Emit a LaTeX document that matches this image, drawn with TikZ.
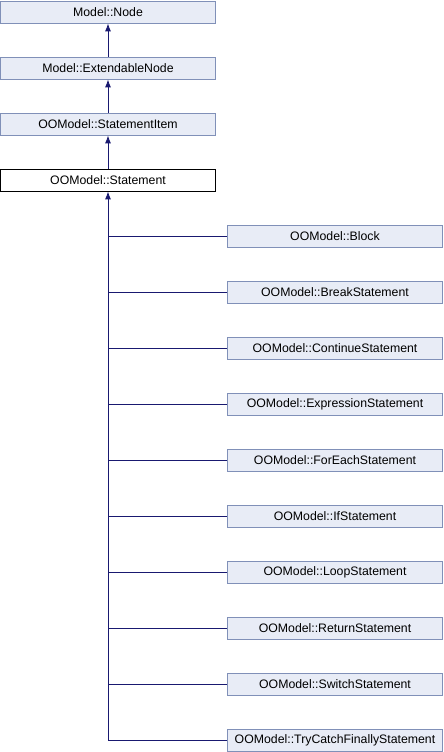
\documentclass[tikz,border=0pt]{standalone}
\usepackage{fontspec}
\setmainfont{Liberation Sans}
\usetikzlibrary{arrows.meta}
\definecolor{boxfill}{HTML}{E8ECF6}
\definecolor{boxdraw}{HTML}{8090B8}
\definecolor{edgecol}{HTML}{191970}
\tikzset{
  cls/.style={draw=boxdraw, fill=boxfill, line width=0.8pt, minimum height=22pt, inner sep=0pt, font=\fontsize{12.3}{14}\selectfont},
  leftcls/.style={cls, minimum width=215pt},
  rightcls/.style={cls, minimum width=215pt},
  curcls/.style={leftcls, draw=black, fill=white},
  edge/.style={draw=edgecol, line width=0.9pt},
  arr/.style={edge, -{Latex[length=8pt,width=6pt]}},
}
\begin{document}
\begin{tikzpicture}[x=1pt,y=-1pt]
\useasboundingbox (0,0) rectangle (444,752);
\node[leftcls] (node) at (108,12) {Model::Node};
\node[leftcls] (ext) at (108,68) {Model::ExtendableNode};
\node[leftcls] (item) at (108,124) {OOModel::StatementItem};
\node[curcls] (stmt) at (108,180) {OOModel::Statement};
\node[rightcls] (c1) at (335,236) {OOModel::Block};
\node[rightcls] (c2) at (335,292) {OOModel::BreakStatement};
\node[rightcls] (c3) at (335,348) {OOModel::ContinueStatement};
\node[rightcls] (c4) at (335,404) {OOModel::ExpressionStatement};
\node[rightcls] (c5) at (335,460) {OOModel::ForEachStatement};
\node[rightcls] (c6) at (335,516) {OOModel::IfStatement};
\node[rightcls] (c7) at (335,572) {OOModel::LoopStatement};
\node[rightcls] (c8) at (335,628) {OOModel::ReturnStatement};
\node[rightcls] (c9) at (335,684) {OOModel::SwitchStatement};
\node[rightcls] (c10) at (335,740) {OOModel::TryCatchFinallyStatement};
\draw[arr] (ext) -- (node);
\draw[arr] (item) -- (ext);
\draw[arr] (stmt) -- (item);
\foreach \c in {c1,c2,c3,c4,c5,c6,c7,c8,c9}
  \draw[edge] (\c.west) -- (\c.west -| stmt.south);
\draw[arr] (c10.west) -| (stmt.south);
\end{tikzpicture}
\end{document}
